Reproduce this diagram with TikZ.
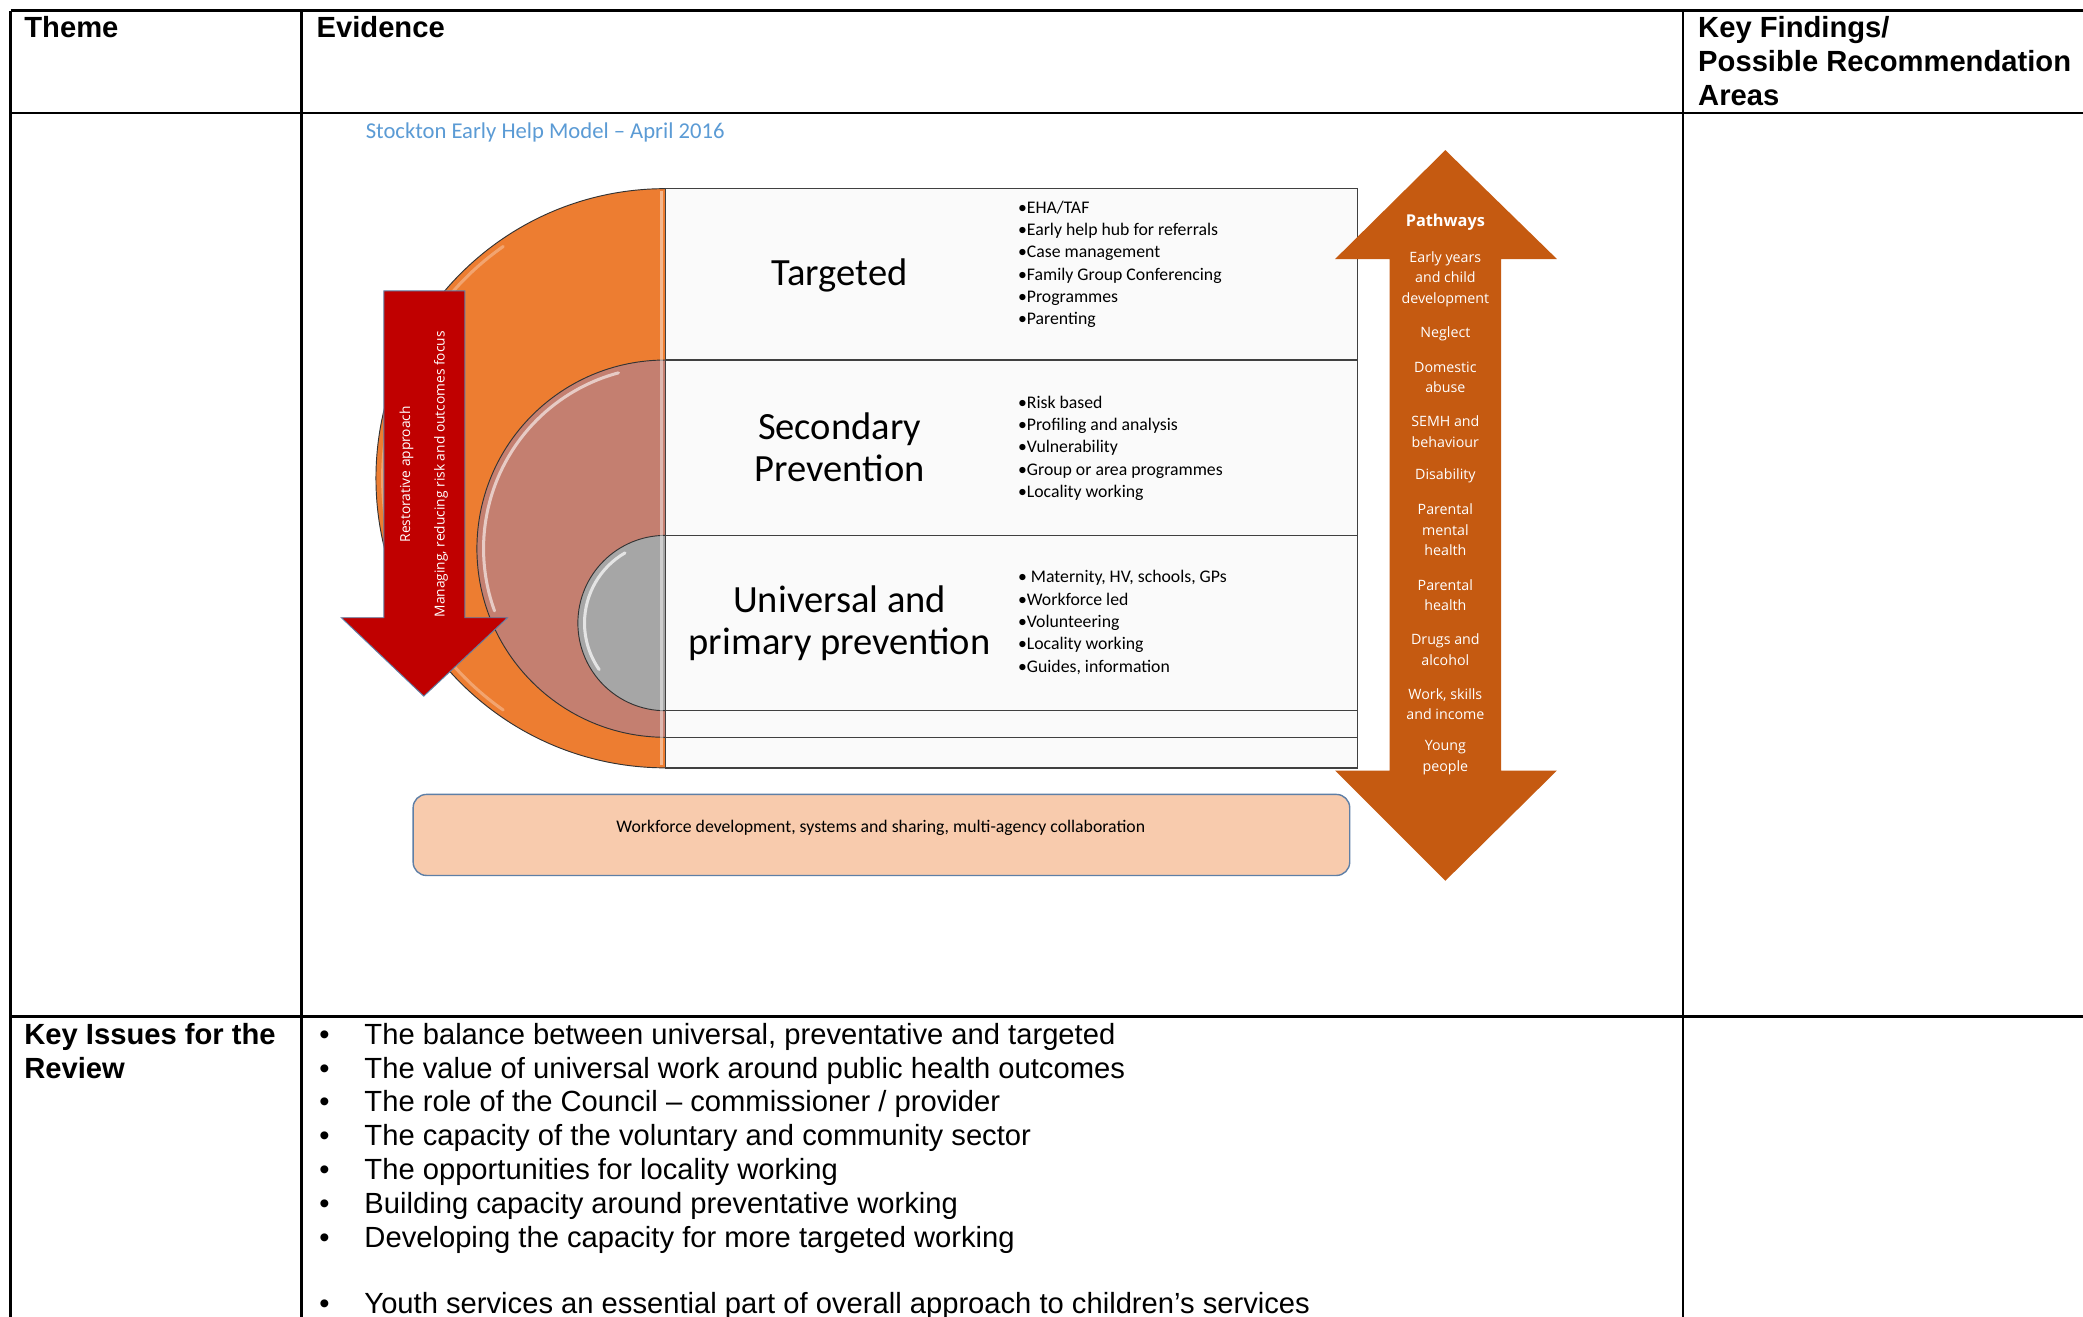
\documentclass[tikz,border=0pt]{standalone}
\usepackage{fontspec}
\setmainfont{Liberation Sans}
\newfontfamily\calibri{Carlito}
\newfontfamily\opensans{Open Sans}
\usetikzlibrary{positioning}
\definecolor{modelblue}{HTML}{5B9BD5}
\definecolor{tierorange}{HTML}{ED7D31}
\definecolor{tiersalmon}{HTML}{C47F70}
\definecolor{tiergrey}{HTML}{A6A6A6}
\definecolor{arrowred}{HTML}{C00000}
\definecolor{pathorange}{HTML}{C55A11}
\definecolor{basefill}{HTML}{F8CBAD}
\definecolor{baseedge}{HTML}{5E7FA6}
\tikzset{tabline/.style={line width=1.1pt},
  head/.style={font=\bfseries\fontsize{12.5}{14.5}\selectfont,inner sep=0pt,align=left},
  issue/.style={font=\fontsize{12.5}{14.5}\selectfont,inner sep=0pt,anchor=base west},
  tier/.style={font=\calibri\fontsize{16.5}{18}\selectfont,align=center,inner sep=0pt},
  bullets/.style={font=\calibri\fontsize{7.6}{9.56}\selectfont,align=left,anchor=west,inner sep=0pt},
  pathitem/.style={font=\opensans\fontsize{6.1}{8.8}\selectfont,text=white,align=center,inner sep=0pt},
  arrowtext/.style={font=\opensans\fontsize{5.9}{7}\selectfont,text=white,inner sep=0pt,rotate=90},
  band/.style={draw=black!75,fill=black!2,line width=0.6pt},
  disc/.style={draw=black!80,line width=0.4pt},
  gloss/.style={white,line width=1.3pt,line cap=round}}

\begin{document}
\begin{tikzpicture}[x=0.02cm,y=0.02cm]
\useasboundingbox[fill=white] (0,0) rectangle (1568,-991);
% table frame
\draw[tabline] (8,-8) -- (1590,-8) (8,-85) -- (1590,-85) (8,-765) -- (1590,-765);
\foreach \x in {8,227,1267} \draw[tabline] (\x,-8) -- (\x,-1010);
\node[head,anchor=base west] (theme) at (18,-28) {Theme};
\node[head,anchor=base west] (evidence) at (238,-28) {Evidence};
\node[head,anchor=north west] (findings) at (1278,-12) {Key Findings/\\Possible Recommendation\\Areas};
\node[head,anchor=north west] (keyissues) at (18,-770) {Key Issues for the\\Review};

% model
\node[font=\calibri\fontsize{9.7}{11}\selectfont,text=modelblue,anchor=west,inner sep=0pt] (title) at (275,-100) {Stockton Early Help Model – April 2016};
\fill[tierorange,disc] (501,-142) arc[start angle=90,end angle=270,radius=218] -- cycle;
\draw[gloss,opacity=.3] (501,-360) ++(125:213) arc[start angle=125,end angle=235,radius=213];
\fill[tiersalmon,disc] (501,-271) arc[start angle=90,end angle=270,radius=142] -- cycle;
\draw[gloss,opacity=.6] (501,-413) ++(105:137) arc[start angle=105,end angle=200,radius=137];
\fill[tiergrey,disc] (501,-403) arc[start angle=90,end angle=270,radius=66] -- cycle;
\draw[gloss,opacity=.7] (501,-469) ++(120:61) arc[start angle=120,end angle=215,radius=61];
\draw[white,opacity=.45,line width=1.4pt] (498,-144) -- (498,-576);
\foreach \t/\b in {142/271,271/403,403/535,535/555,555/578}
  \draw[band] (501,-\t) rectangle (1022,-\b);
\node[tier] (targeted) at (632,-207) {Targeted};
\node[tier] (secondary) at (632,-337) {Secondary\\Prevention};
\node[tier] (universal) at (632,-469) {Universal and\\primary prevention};
\node[bullets] (targetlist) at (766,-199) {•EHA/TAF\\•Early help hub for referrals\\•Case management\\•Family Group Conferencing\\•Programmes\\•Parenting};
\node[bullets] (secondlist) at (766,-337.5) {•Risk based\\•Profiling and analysis\\•Vulnerability\\•Group or area programmes\\•Locality working};
\node[bullets] (universallist) at (766,-468.5) {• Maternity, HV, schools, GPs\\•Workforce led\\•Volunteering\\•Locality working\\•Guides, information};

% red arrow
\filldraw[fill=arrowred,draw=baseedge,line width=0.4pt] (289,-219) -- (350,-219) -- (350,-465) -- (382,-465)
  -- (319,-524) -- (257,-465) -- (289,-465) -- cycle;
\node[arrowtext] (restorative) at (306,-357) {Restorative approach};
\node[arrowtext] (managing) at (332,-357) {Managing, reducing risk and outcomes focus};

% pathways arrow
\fill[pathorange] (1088,-113) -- (1172,-195) -- (1130,-195) -- (1130,-580) -- (1172,-580) -- (1088,-663)
  -- (1005,-580) -- (1046,-580) -- (1046,-195) -- (1005,-195) -- cycle;
\node[pathitem,font=\opensans\bfseries\fontsize{7}{8.8}\selectfont] (pathways) at (1088,-167) {Pathways};
\foreach \y/\t [count=\i] in {210/Early years\\and child\\development,251/Neglect,284/Domestic\\abuse,
  325/SEMH and\\behaviour,358/Disability,399/Parental\\mental\\health,448/Parental\\health,
  489/Drugs and\\alcohol,{530/Work, skills\\and income},570.5/Young\\people}
  \node[pathitem] (path\i) at (1088,-\y) {\t};

\draw[fill=basefill,draw=baseedge,line width=0.6pt,rounded corners=0.2cm] (311,-598) rectangle (1016,-659);
\node[bullets,anchor=center] (workforce) at (663,-623) {Workforce development, systems and sharing, multi-agency collaboration};

% key issues
\foreach \t [count=\i] in {The balance between universal{,} preventative and targeted,
  The value of universal work around public health outcomes,The role of the Council – commissioner / provider,
  The capacity of the voluntary and community sector,The opportunities for locality working,
  Building capacity around preventative working,Developing the capacity for more targeted working}{
  \node[issue] (bul\i) at (240,{-786-25.5*(\i-1)}) {•};
  \node[issue] (issue\i) at (274,{-786-25.5*(\i-1)}) {\t};}
\node[issue] (bul8) at (240,-989) {•};
\node[issue] (issue8) at (274,-989) {Youth services an essential part of overall approach to children’s services};
\end{tikzpicture}
\end{document}
